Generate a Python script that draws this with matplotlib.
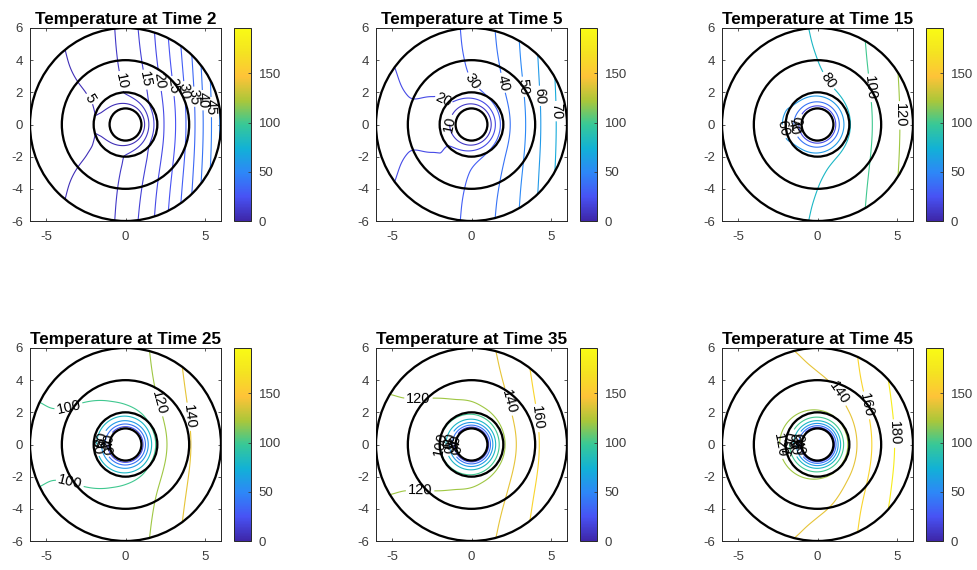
import numpy as np
import matplotlib
matplotlib.use('Agg')
import matplotlib.pyplot as plt
from matplotlib.colors import LinearSegmentedColormap, Normalize
from matplotlib.patches import Circle
from matplotlib.cm import ScalarMappable

plt.rcParams['font.family'] = ['Liberation Sans', 'DejaVu Sans']
plt.rcParams['axes.unicode_minus'] = False

# ---------------- data ----------------
TIMES = [2, 5, 15, 25, 35, 45]

X_KNOTS = [-6, -4, -2, -1, 0, 1, 2, 3, 4, 5, 6]
F_T2 = [3.8, 4.9, 5.9, 8.9, 12.4, 15.8, 21.0, 26.9, 33.7, 42.2, 50.8]
F_T5 = [19.2, 20.6, 22.3, 28.5, 33.2, 37.5, 43, 50, 58.5, 68, 76]
F_T15 = [62, 64, 68, 78, 82, 86.5, 92, 100, 109, 119.5, 127]
F_T25 = [99.0, 102.3, 105.5, 107.5, 110, 114.5, 126, 134, 144, 149, 153]
F_T35 = [118.5, 122, 126, 128.5, 131, 136, 144, 153, 163, 169, 174]
F_T45 = [133, 136, 139, 141, 143.6, 147, 154, 166, 176, 184.5, 191]

# radial attenuation towards the cold inner hole
R_KNOTS = [1, 1.1, 1.25, 1.5, 1.75, 2, 2.5, 3, 4, 5, 6]
G_T2 = [0, 0.18, 0.35, 0.58, 0.74, 0.83, 0.86, 0.89, 0.94, 0.975, 1]
G_T5 = [0, 0.12, 0.27, 0.5, 0.68, 0.8, 0.88, 0.92, 0.96, 0.985, 1]
G_T15 = [0, 0.17, 0.34, 0.56, 0.72, 0.85, 0.925, 0.95, 0.975, 0.99, 1]
G_T25 = [0, 0.17, 0.34, 0.56, 0.72, 0.84, 0.91, 0.935, 0.965, 0.985, 1]
G_T35 = [0, 0.18, 0.35, 0.56, 0.71, 0.8, 0.9, 0.935, 0.965, 0.985, 1]
G_T45 = [0, 0.19, 0.36, 0.57, 0.72, 0.81, 0.88, 0.92, 0.96, 0.985, 1]

LEVELS_T2 = [5, 10, 15, 20, 25, 30, 35, 40, 45, 50]
LEVELS_T5 = [10, 20, 30, 40, 50, 60, 70]
LEVELS_T15 = [20, 40, 60, 80, 100, 120]
LEVELS_T25 = [20, 40, 60, 80, 100, 120, 140]
LEVELS_T35 = [20, 40, 60, 80, 100, 120, 140, 160]
LEVELS_T45 = [20, 40, 60, 80, 100, 120, 140, 160, 180]

# contour labels: (level, x, y)
LABELS_T2 = [(5, -1.6, 2.0), (10, -0.05, 2.75), (15, 1.0, 2.75), (20, 1.73, 2.65),
             (25, 2.46, 2.33), (30, 3.08, 2.02), (35, 3.7, 1.7), (40, 4.54, 1.5),
             (45, 5.27, 1.08)]
LABELS_T5 = [(10, -1.46, 0.0), (20, -1.46, 1.77), (30, 0.1, 2.7), (40, 1.56, 2.5),
             (50, 2.8, 2.3), (60, 4.06, 1.77), (70, 5.3, 0.83)]
LABELS_T15 = [(20, -1.09, 0.04), (40, -1.47, -0.17), (60, -2.3, -0.27),
              (80, 0.73, 2.77), (100, 2.93, 2.24), (120, 5.28, 0.57)]
LABELS_T25 = [(20, -1.2, 0.2), (40, -1.4, -0.2), (60, -1.6, 0.3), (80, -1.8, -0.1),
              (100, -3.58, 2.35), (100, -3.48, -2.33), (120, 1.94, 2.56), (140, 4.0, 1.73)]
LABELS_T35 = [(20, -1.15, 0.1), (40, -1.3, -0.2), (60, -1.45, 0.25), (80, -1.65, -0.1),
              (100, -2.23, 0.0), (120, -3.33, 2.77), (120, -3.23, -2.85),
              (140, 1.98, 2.56), (160, 3.96, 1.63)]
LABELS_T45 = [(20, -1.1, 0.2), (40, -1.25, -0.2), (60, -1.4, 0.25), (80, -1.55, -0.15),
              (100, -1.75, 0.1), (120, -2.74, -0.04), (140, 0.74, 2.8),
              (160, 2.84, 2.38), (180, 5.05, 0.69)]

RINGS = [1, 2, 4, 6]
CLIM = [0, 196]
CBAR_TICKS = [0, 50, 100, 150]
X_TICKS = [-5, 0, 5]
Y_TICKS = [-6, -4, -2, 0, 2, 4, 6]

PARULA = [(0.2422, 0.1504, 0.6603), (0.2810, 0.3228, 0.9579), (0.1786, 0.5289, 0.9682),
          (0.0689, 0.6948, 0.8394), (0.2161, 0.7843, 0.5923), (0.6720, 0.7793, 0.2227),
          (0.9970, 0.7659, 0.2199), (0.9575, 0.8925, 0.1292), (0.9769, 0.9839, 0.0805)]

F_ALL = [F_T2, F_T5, F_T15, F_T25, F_T35, F_T45]
G_ALL = [G_T2, G_T5, G_T15, G_T25, G_T35, G_T45]
LEVELS_ALL = [LEVELS_T2, LEVELS_T5, LEVELS_T15, LEVELS_T25, LEVELS_T35, LEVELS_T45]
LABELS_ALL = [LABELS_T2, LABELS_T5, LABELS_T15, LABELS_T25, LABELS_T35, LABELS_T45]


def pchip(x, xk, yk):
    xk = np.asarray(xk, float)
    yk = np.asarray(yk, float)
    h = np.diff(xk)
    d = np.diff(yk) / h
    m = np.zeros_like(yk)
    for i in range(1, len(xk) - 1):
        if d[i - 1] * d[i] > 0:
            m[i] = 2.0 / (1.0 / d[i - 1] + 1.0 / d[i])
    m[0] = d[0]
    m[-1] = d[-1]
    x = np.asarray(x, float)
    idx = np.clip(np.searchsorted(xk, x) - 1, 0, len(xk) - 2)
    hh = h[idx]
    t = (x - xk[idx]) / hh
    h00 = 2 * t**3 - 3 * t**2 + 1
    h10 = t**3 - 2 * t**2 + t
    h01 = -2 * t**3 + 3 * t**2
    h11 = t**3 - t**2
    return h00 * yk[idx] + h10 * hh * m[idx] + h01 * yk[idx + 1] + h11 * hh * m[idx + 1]


cmap = LinearSegmentedColormap.from_list('parula', PARULA, N=256)
norm = Normalize(CLIM[0], CLIM[1])

W, H = 977, 570
fig = plt.figure(figsize=(W / 100, H / 100), dpi=100)

AX_LEFT_PX = [30, 376, 722]
CB_LEFT_PX = [234, 580, 926]
ROW_TOP_PX = [28, 348]
AX_W_PX, AX_H_PX, CB_W_PX = 191, 193, 17

rr = np.linspace(1.0, 6.0, 201)
tt = np.linspace(-np.pi, np.pi, 481)
RR, TT = np.meshgrid(rr, tt)
XX = RR * np.cos(TT)
YY = RR * np.sin(TT)

tick_color = '#3c3c3c'
FS = 9.5
LABEL_FS = 10.5

for k, tval in enumerate(TIMES):
    row, col = divmod(k, 3)
    top = ROW_TOP_PX[row]
    ax = fig.add_axes([AX_LEFT_PX[col] / W, 1 - (top + AX_H_PX) / H,
                       AX_W_PX / W, AX_H_PX / H])
    cax = fig.add_axes([CB_LEFT_PX[col] / W, 1 - (top + AX_H_PX) / H,
                        CB_W_PX / W, AX_H_PX / H])
    ax.set_xlim(-6, 6)
    ax.set_ylim(-6, 6)

    T = pchip(XX, X_KNOTS, F_ALL[k]) * pchip(RR, R_KNOTS, G_ALL[k])
    for lev in LEVELS_ALL[k]:
        cs = ax.contour(XX, YY, T, levels=[lev], colors=[cmap(norm(lev))],
                        linewidths=0.8)
        pts = [(lx, ly) for (lv, lx, ly) in LABELS_ALL[k] if lv == lev]
        if pts:
            try:
                ax.clabel(cs, [lev], inline=True, fmt='%d', fontsize=LABEL_FS,
                          colors='k', manual=pts, inline_spacing=2)
            except Exception:
                pass
    for r in RINGS:
        ax.add_patch(Circle((0, 0), r, fill=False, ec='black', lw=1.65, zorder=5))

    ax.set_xticks(X_TICKS)
    ax.set_yticks(Y_TICKS)
    ax.tick_params(direction='in', length=2.5, width=0.6, top=True, right=True,
                   labelsize=FS, colors=tick_color)
    ax.tick_params(axis='y', pad=5)
    ax.tick_params(axis='x', pad=7)
    for s in ax.spines.values():
        s.set_linewidth(0.7)
        s.set_color('#262626')
    ax.set_title(f'Temperature at Time {tval}', fontsize=12.3, fontweight='bold',
                 pad=3)

    sm = ScalarMappable(norm=norm, cmap=cmap)
    cb = fig.colorbar(sm, cax=cax, ticks=CBAR_TICKS)
    cb.ax.tick_params(direction='in', length=2.5, width=0.6, labelsize=FS,
                      colors=tick_color, pad=5.5)
    cb.outline.set_linewidth(0.7)
    cb.outline.set_edgecolor('#262626')

fig.savefig('out.png', dpi=100, facecolor='white')
